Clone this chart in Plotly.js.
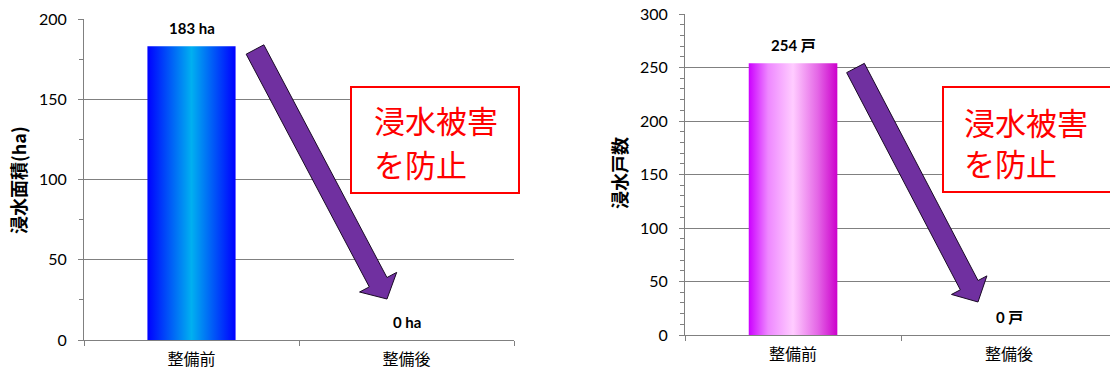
<!DOCTYPE html>
<html>
<head>
<meta charset="utf-8">
<script src="https://cdn.plot.ly/plotly-3.0.1.min.js"></script>
<style>html,body{margin:0;padding:0;background:#fff;overflow:hidden}</style>
</head>
<body>
<div id="chart" style="width:1110px;height:373px"></div>
<script>
// ---- data ----
const categories = ['整備前', '整備後'];
const areaValues = [183, 0];        // 浸水面積 (ha)
const houseValues = [254, 0];       // 浸水戸数 (戸)
const areaUnit = 'ha';
const houseUnit = '戸';
const areaTitle = '浸水面積(ha)';
const houseTitle = '浸水戸数';
const calloutLines = ['浸水被害', 'を防止'];

// ---- layout helpers ----
const W = 1110, H = 373;
const px = x => x / W;
const py = y => 1 - y / H;
const GRAY = '#808080';
const NUM_FONT = 'Lato, "Noto Sans CJK JP", sans-serif';
const CJK_FONT = '"Noto Sans CJK JP", sans-serif';
const halfW = 0.205;

function gradientBars(vals, xa, ya, scale) {
  return vals.map((v, i) => ({
    type: 'scatter', mode: 'none', xaxis: xa, yaxis: ya,
    x: [i - halfW, i - halfW, i + halfW, i + halfW, i - halfW],
    y: [0, v, v, 0, 0],
    fill: 'toself',
    fillgradient: {type: 'horizontal', colorscale: scale},
    hoverinfo: 'skip', showlegend: false
  }));
}

const blueScale = [[0, '#0000ff'], [0.5, '#00b0f0'], [1, '#0000ff']];
const pinkScale = [[0, '#cc00ff'], [0.22, '#ee88ff'], [0.5, '#ffccff'], [0.78, '#e466e6'], [1, '#cc00cc']];

const traces = [
  ...gradientBars(areaValues, 'x', 'y', blueScale),
  ...gradientBars(houseValues, 'x2', 'y2', pinkScale)
];

function xAxis(domain, range) {
  return {
    domain: domain, range: range, type: 'linear',
    tickmode: 'array', tickvals: categories.map((c, i) => i), ticktext: categories,
    ticks: '', showgrid: false, zeroline: false,
    showline: true, linecolor: GRAY, linewidth: 1,
    tickfont: {family: CJK_FONT, size: 16, color: '#000'},
    ticklabelstandoff: 5,
    minor: {tickmode: 'array', tickvals: [-0.5, 0.5, 1.5], ticks: 'outside', ticklen: 5, tickcolor: GRAY, showgrid: false},
    fixedrange: true
  };
}
function yAxis(domain, range, dtick, mdtick, anchor) {
  return {
    domain: domain, range: range, anchor: anchor,
    tickmode: 'linear', tick0: 0, dtick: dtick,
    ticks: 'outside', ticklen: 5, tickcolor: GRAY,
    showgrid: true, gridcolor: GRAY, gridwidth: 1,
    zeroline: false, showline: true, linecolor: GRAY, linewidth: 1,
    tickfont: {family: NUM_FONT, size: 16, color: '#000'},
    ticklabelstandoff: 8,
    minor: {dtick: mdtick, ticks: 'outside', ticklen: 4, tickcolor: GRAY, showgrid: false},
    fixedrange: true
  };
}

function arrowPath(sx, sy, tx, ty, sh, hh, hl) {
  const dx = tx - sx, dy = ty - sy, L = Math.hypot(dx, dy);
  const ux = dx / L, uy = dy / L, nx = uy, ny = -ux;
  const bx = tx - hl * ux, by = ty - hl * uy;
  const pts = [
    [sx + sh * nx, sy + sh * ny],
    [bx + sh * nx, by + sh * ny],
    [bx + hh * nx, by + hh * ny],
    [tx, ty],
    [bx - hh * nx, by - hh * ny],
    [bx - sh * nx, by - sh * ny],
    [sx - sh * nx, sy - sh * ny]
  ];
  return 'M' + pts.map(p => px(p[0]).toFixed(5) + ',' + py(p[1]).toFixed(5)).join(' L') + ' Z';
}

const shapes = [
  {type: 'path', xref: 'paper', yref: 'paper', path: arrowPath(255, 49.5, 387, 299, 10, 21, 19),
   fillcolor: '#7030a0', line: {color: '#1a0a26', width: 1}},
  {type: 'path', xref: 'paper', yref: 'paper', path: arrowPath(855.5, 68, 978, 302, 10, 20, 19),
   fillcolor: '#7030a0', line: {color: '#1a0a26', width: 1}},
  {type: 'rect', xref: 'paper', yref: 'paper', x0: px(351), x1: px(519), y0: py(193), y1: py(87),
   fillcolor: '#fff', line: {color: '#ff0000', width: 2}},
  {type: 'rect', xref: 'paper', yref: 'paper', x0: px(943), x1: px(1125), y0: py(192), y1: py(87),
   fillcolor: '#fff', line: {color: '#ff0000', width: 2}}
];

const annotations = [];
areaValues.forEach((v, i) => annotations.push({
  xref: 'x', yref: 'y', x: i, y: v, text: '<b>' + v + ' ' + areaUnit + '</b>',
  showarrow: false, xanchor: 'center', yanchor: 'middle', yshift: 18.5,
  font: {family: NUM_FONT, size: 15, color: '#000'}
}));
houseValues.forEach((v, i) => annotations.push({
  xref: 'x2', yref: 'y2', x: i, y: v, text: '<b>' + v + ' ' + houseUnit + '</b>',
  showarrow: false, xanchor: 'center', yanchor: 'middle', yshift: 18.5,
  font: {family: NUM_FONT, size: 15, color: '#000'}
}));
annotations.push({xref: 'paper', yref: 'paper', x: px(18), y: py(180), xanchor: 'center', yanchor: 'middle',
  text: '<b>' + areaTitle + '</b>',
  textangle: -90, showarrow: false, font: {family: CJK_FONT, size: 18, color: '#000', weight: 900}});
annotations.push({xref: 'paper', yref: 'paper', x: px(619), y: py(173), xanchor: 'center', yanchor: 'middle',
  text: '<b>' + houseTitle + '</b>',
  textangle: -90, showarrow: false, font: {family: CJK_FONT, size: 18, color: '#000', weight: 900}});
[[372, 119, 163], [962, 121, 162]].forEach(([lx, y1, y2]) => {
  [y1, y2].forEach((yy, k) => annotations.push({
    xref: 'paper', yref: 'paper', x: px(lx), y: py(yy), xanchor: 'left', yanchor: 'middle',
    text: calloutLines[k], showarrow: false,
    font: {family: CJK_FONT, size: 31, color: '#ff0000'}
  }));
});

const layout = {
  width: W, height: H,
  margin: {l: 0, r: 0, t: 0, b: 0},
  paper_bgcolor: '#fff', plot_bgcolor: 'rgba(0,0,0,0)',
  showlegend: false,
  xaxis: Object.assign(xAxis([px(84), px(514)], [-0.5, 1.5]), {anchor: 'y'}),
  yaxis: yAxis([py(340), py(19)], [0, 200], 50, 25, 'x'),
  xaxis2: Object.assign(xAxis([px(685), 1], [-0.5, 1.467]), {anchor: 'y2'}),
  yaxis2: yAxis([py(335), py(14)], [0, 300], 50, 10, 'x2'),
  shapes: shapes,
  annotations: annotations
};

Plotly.newPlot('chart', traces, layout, {displayModeBar: false, staticPlot: true});
</script>
</body>
</html>
